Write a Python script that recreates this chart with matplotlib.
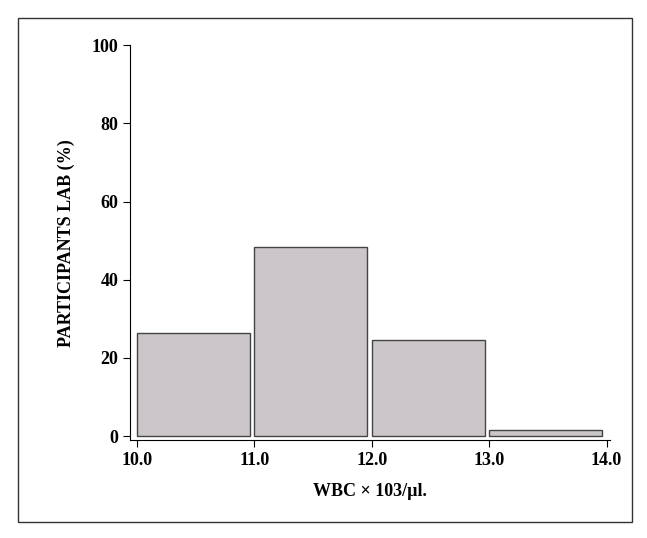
import matplotlib
matplotlib.use('Agg')
import matplotlib.pyplot as plt
from matplotlib.patches import Rectangle

bin_left = [10.0, 11.0, 12.0, 13.0]
percent = [26.5, 48.5, 24.5, 1.5]
x_ticks = [10.0, 11.0, 12.0, 13.0, 14.0]
y_ticks = [0, 20, 40, 60, 80, 100]

plt.rcParams['font.family'] = ['Liberation Serif', 'DejaVu Serif']
plt.rcParams['font.weight'] = 'bold'

fig = plt.figure(figsize=(6.47, 5.38), dpi=100)
fig.patches.append(Rectangle((18 / 647, 1 - 522 / 538), 614 / 647, 504 / 538,
                             transform=fig.transFigure, fill=False,
                             edgecolor='#333333', linewidth=1))
ax = fig.add_axes([0.201, 0.182, 0.742, 0.734])
ax.bar(bin_left, percent, width=0.96, align='edge', color='#cbc6ca',
       edgecolor='#444444', linewidth=1)
ax.set_xlim(9.94, 14.03)
ax.set_ylim(-1, 100)
ax.set_xticks(x_ticks)
ax.set_xticklabels(['%.1f' % t for t in x_ticks])
ax.set_yticks(y_ticks)
ax.spines['top'].set_visible(False)
ax.spines['right'].set_visible(False)
ax.tick_params(labelsize=13, direction='out', length=5)
ax.set_xlabel('WBC × 103/µl.', fontsize=13, fontweight='bold', labelpad=10)
ax.set_ylabel('PARTICIPANTS LAB (%)', fontsize=13, fontweight='bold', labelpad=12)
fig.savefig('out.png', dpi=100)
